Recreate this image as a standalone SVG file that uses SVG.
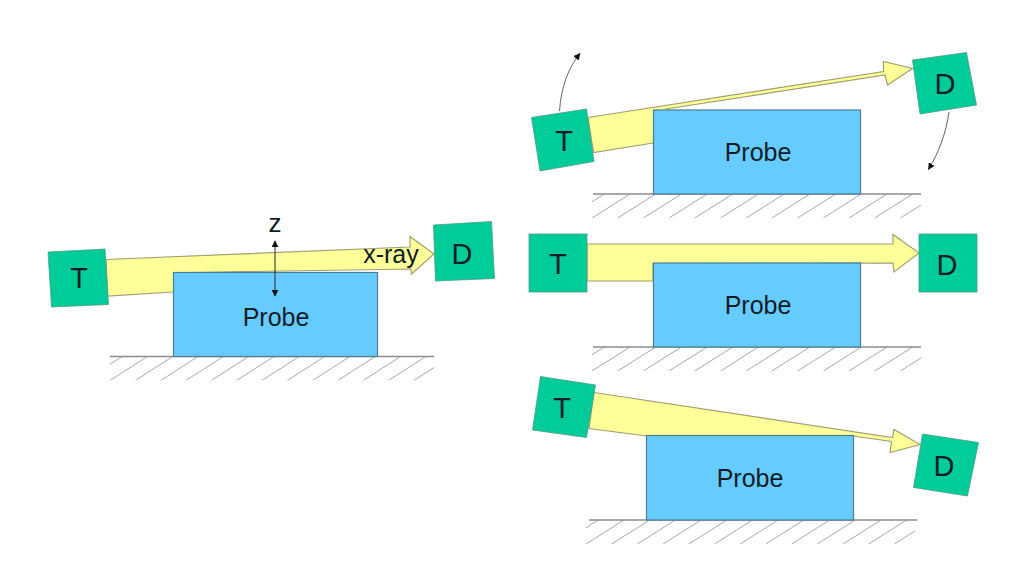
<svg xmlns="http://www.w3.org/2000/svg" xmlns:xlink="http://www.w3.org/1999/xlink" width="1035" height="565" viewBox="0 0 1035 565">
<style>
text{font-family:"Liberation Sans",Arial,sans-serif;fill:#0c1c26;text-anchor:middle}
.sq{fill:#00cc99;stroke:#4f9c86;stroke-width:.8}
.lbl{font-size:29px}
.probe{fill:#66ccff;stroke:#4a7c94;stroke-width:1.2}
.ptxt{font-size:25px}
.beam{fill:#ffff99;stroke:#a0a070;stroke-width:1.2}
.ground{stroke:#8c8c8c;stroke-width:1.4;fill:none}
.hatch{stroke:#a8a8a8;stroke-width:1;fill:none}
.arc{stroke:#666;stroke-width:1;fill:none}
</style>
<defs>
<marker id="ah" viewBox="0 0 10 10" refX="9" refY="5" markerWidth="7" markerHeight="7" orient="auto-start-reverse" markerUnits="userSpaceOnUse"><path d="M0 0L10 5L0 10Z" fill="#111"/></marker>
<clipPath id="hc"><rect x="0" y="0" width="329" height="24"/></clipPath>
<g id="hatch" clip-path="url(#hc)" class="hatch"><path d="M-25.700 24L12.300 0M0 24L38 0M25.700 24L63.700 0M51.400 24L89.400 0M77.100 24L115.100 0M102.800 24L140.800 0M128.500 24L166.500 0M154.200 24L192.200 0M179.900 24L217.900 0M205.600 24L243.600 0M231.300 24L269.300 0M257 24L295 0M282.700 24L320.700 0M308.400 24L346.400 0"/></g>
</defs>
<rect width="1035" height="565" fill="#fff"/>
<g id="connectors">
<path class="beam" d="M106 259.500L410 247L410 236.500L434 254L411.500 274L411 269L190 272.500L173 292L107.500 296Z"/>
<path class="beam" d="M588 117.500L883.500 71.500L883.500 61.500L912.500 68.500L887.500 85L885 75L666 109L653 143L593.500 152.500Z"/>
<path class="beam" d="M587 244L893 244L893 234.500L919 253L894 272L893 263L653 263.500L653 281L587 281Z"/>
<path class="beam" d="M594 392.500L892.500 437.500L894 429.500L920 444.500L890 452.500L891.500 441.500L853 436L647 436L589 428.500Z"/>
<path class="arc" d="M559.500 111C561 88 568 68 580 53.500" marker-end="url(#ah)"/>
<path class="arc" d="M949 112C946 133 939 152 928.500 169.500" marker-end="url(#ah)"/>
</g>
<g id="ground-1"><use xlink:href="#hatch" href="#hatch" transform="translate(110 356.500) scale(.985 1)"/><path class="ground" d="M110 356.500H434"/></g>
<g id="ground-2"><use xlink:href="#hatch" href="#hatch" x="592" y="194"/><path class="ground" d="M593 194H921"/></g>
<g id="ground-3"><use xlink:href="#hatch" href="#hatch" x="592" y="347"/><path class="ground" d="M593 347H921"/></g>
<g id="ground-4"><use xlink:href="#hatch" href="#hatch" x="586" y="520"/><path class="ground" d="M589 520H917"/></g>
<g id="probe-1"><rect class="probe" x="173.500" y="272.500" width="204" height="84"/><text class="ptxt" x="276" y="326">Probe</text></g>
<g id="probe-2"><rect class="probe" x="653.500" y="110" width="207" height="84"/><text class="ptxt" x="758" y="161">Probe</text></g>
<g id="probe-3"><rect class="probe" x="653.500" y="263" width="207" height="84"/><text class="ptxt" x="758" y="314">Probe</text></g>
<g id="probe-4"><rect class="probe" x="646.500" y="435.500" width="207" height="84.500"/><text class="ptxt" x="750" y="487">Probe</text></g>
<g id="t-1"><path class="sq" d="M48 252L105 249L108.500 304.500L51.500 307Z"/><text class="lbl" x="79" y="288">T</text></g>
<g id="d-1"><path class="sq" d="M433.500 225L491.500 221.500L494.500 278.500L435.500 281Z"/><text class="lbl" x="462" y="264">D</text></g>
<g id="t-2"><path class="sq" d="M531.500 117.500L586.500 109L594 161.500L540 171Z"/><text class="lbl" x="564" y="151">T</text></g>
<g id="d-2"><path class="sq" d="M912.500 60L966.500 52.500L976.500 105L920 114Z"/><text class="lbl" x="945" y="94">D</text></g>
<g id="t-3"><rect class="sq" x="529" y="234" width="58" height="58"/><text class="lbl" x="558" y="274">T</text></g>
<g id="d-3"><rect class="sq" x="919" y="234" width="58" height="58"/><text class="lbl" x="947" y="275">D</text></g>
<g id="t-4"><path class="sq" d="M540.500 376.500L595.500 385L586.500 437.500L532.500 430Z"/><text class="lbl" x="562" y="418">T</text></g>
<g id="d-4"><path class="sq" d="M922.500 434L978.500 442.500L967.500 496L913.500 487.500Z"/><text class="lbl" x="944" y="476">D</text></g>
<g id="z-axis"><path d="M275 241V296" stroke="#222" stroke-width="1" fill="none" marker-start="url(#ah)" marker-end="url(#ah)"/><text x="275" y="232" font-size="26">z</text></g>
<text x="391" y="263" font-size="25">x-ray</text>
</svg>
